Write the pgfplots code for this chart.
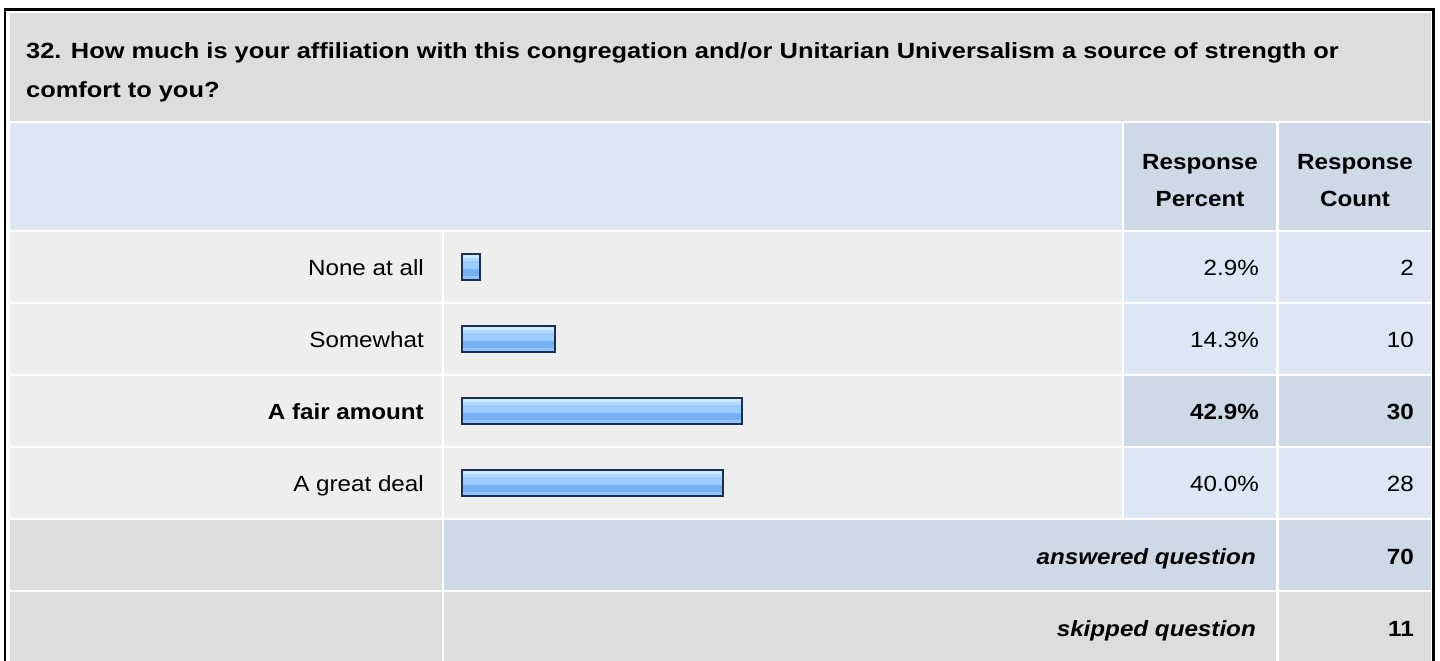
\documentclass[border=0pt]{standalone}
\usepackage{fontspec}
\setmainfont{Liberation Sans}[FakeStretch=1.1]
\newfontfamily\titlefont{Liberation Sans}[FakeStretch=1.155]
\usepackage{pgfplots}
\pgfplotsset{compat=1.18}
\definecolor{titlebg}{HTML}{DDDDDD}
\definecolor{hdrlight}{HTML}{DCE6F4}
\definecolor{hdrdark}{HTML}{CDD9E6}
\definecolor{rowbg}{HTML}{EEEEEE}
\definecolor{barline}{HTML}{1C3152}
\definecolor{bT}{HTML}{CDE7FF}
\definecolor{bL}{HTML}{B3D9FF}
\definecolor{bM}{HTML}{9CCBFF}
\definecolor{bD}{HTML}{76AEF2}
\definecolor{bB}{HTML}{90C4FF}
\pgfdeclareverticalshading{barshade}{100bp}{color(0bp)=(bB); color(25bp)=(bB); color(33bp)=(bB); color(34bp)=(bD); color(46bp)=(bD); color(47bp)=(bM); color(62bp)=(bM); color(63bp)=(bL); color(68bp)=(bL); color(69bp)=(bT); color(100bp)=(bT)}
\newcommand\cell[5]{\fill[#5] (#1,#2) rectangle (#3,#4);}
\begin{document}
\fontsize{22}{38}\selectfont
\begin{tikzpicture}
\begin{scope}[x=1pt,y=-1pt]
\useasboundingbox (0,0) rectangle (1440,661);
\fill[white] (0,0) rectangle (1440,661);
% title
\cell{10}{13}{1431}{121}{titlebg}
% header
\cell{10}{123}{1122}{230}{hdrlight}
\cell{1124}{123}{1276}{230}{hdrdark}
\cell{1279}{123}{1431}{230}{hdrdark}
% rows
\foreach \i/\pc in {0/hdrlight,1/hdrlight,2/hdrdark,3/hdrlight}{
  \pgfmathsetmacro\ya{232+72*\i}
  \pgfmathsetmacro\yb{302+72*\i}
  \cell{10}{\ya}{442}{\yb}{rowbg}
  \cell{444}{\ya}{1122}{\yb}{rowbg}
  \cell{1124}{\ya}{1276}{\yb}{\pc}
  \cell{1279}{\ya}{1431}{\yb}{\pc}
}
% answered
\cell{10}{520}{442}{590}{titlebg}
\cell{444}{520}{1276}{590}{hdrdark}
\cell{1279}{520}{1431}{590}{hdrdark}
% skipped
\cell{10}{592}{442}{662}{titlebg}
\cell{444}{592}{1276}{662}{titlebg}
\cell{1279}{592}{1431}{662}{titlebg}
% border
\draw[black,line width=2.5pt] (5,665)--(5,9.5)--(1433.5,9.5)--(1433.5,665);
% texts
\node[anchor=base west,inner sep=0pt] at (26,59) {\titlefont\bfseries 32. How much is your affiliation with this congregation and/or Unitarian Universalism a source of strength or};
\node[anchor=base west,inner sep=0pt] at (26,97) {\titlefont\bfseries comfort to you?};
\node[anchor=base,inner sep=0pt] at (1200,169) {\bfseries Response};
\node[anchor=base,inner sep=0pt] at (1200,206) {\bfseries Percent};
\node[anchor=base,inner sep=0pt] at (1355,169) {\bfseries Response};
\node[anchor=base,inner sep=0pt] at (1355,206) {\bfseries Count};
\node[anchor=base east,inner sep=0pt] at (424,275) {None at all};
\node[anchor=base east,inner sep=0pt] at (424,347) {Somewhat};
\node[anchor=base east,inner sep=0pt] at (424,419) {\bfseries A fair amount};
\node[anchor=base east,inner sep=0pt] at (424,491) {A great deal};
\node[anchor=base east,inner sep=0pt] at (1259,275) {2.9\%};
\node[anchor=base east,inner sep=0pt] at (1259,347) {14.3\%};
\node[anchor=base east,inner sep=0pt] at (1259,419) {\bfseries 42.9\%};
\node[anchor=base east,inner sep=0pt] at (1259,491) {40.0\%};
\node[anchor=base east,inner sep=0pt] at (1414,275) {2};
\node[anchor=base east,inner sep=0pt] at (1414,347) {10};
\node[anchor=base east,inner sep=0pt] at (1414,419) {\bfseries 30};
\node[anchor=base east,inner sep=0pt] at (1414,491) {28};
\node[anchor=base east,inner sep=0pt] at (1256,564) {\bfseries\itshape answered question};
\node[anchor=base east,inner sep=0pt] at (1414,564) {\bfseries 70};
\node[anchor=base east,inner sep=0pt] at (1256,636) {\bfseries\itshape skipped question};
\node[anchor=base east,inner sep=0pt] at (1414,636) {\bfseries 11};
\end{scope}
\begin{axis}[at={(461.5pt,-231pt)},anchor=north west,scale only axis,
  width=653pt,height=288pt,xmin=0,xmax=100,ymin=0.5,ymax=4.5,y dir=reverse,
  hide axis,clip=false,
  mybar/.style={xbar,bar width=26pt,bar shift=0pt,draw=barline,line width=2pt,shade,shading=barshade,mark=none}]
\addplot[mybar] coordinates {(2.9,1)};
\addplot[mybar] coordinates {(14.3,2)};
\addplot[mybar] coordinates {(42.9,3)};
\addplot[mybar] coordinates {(40.0,4)};
\end{axis}
\end{tikzpicture}
\end{document}
